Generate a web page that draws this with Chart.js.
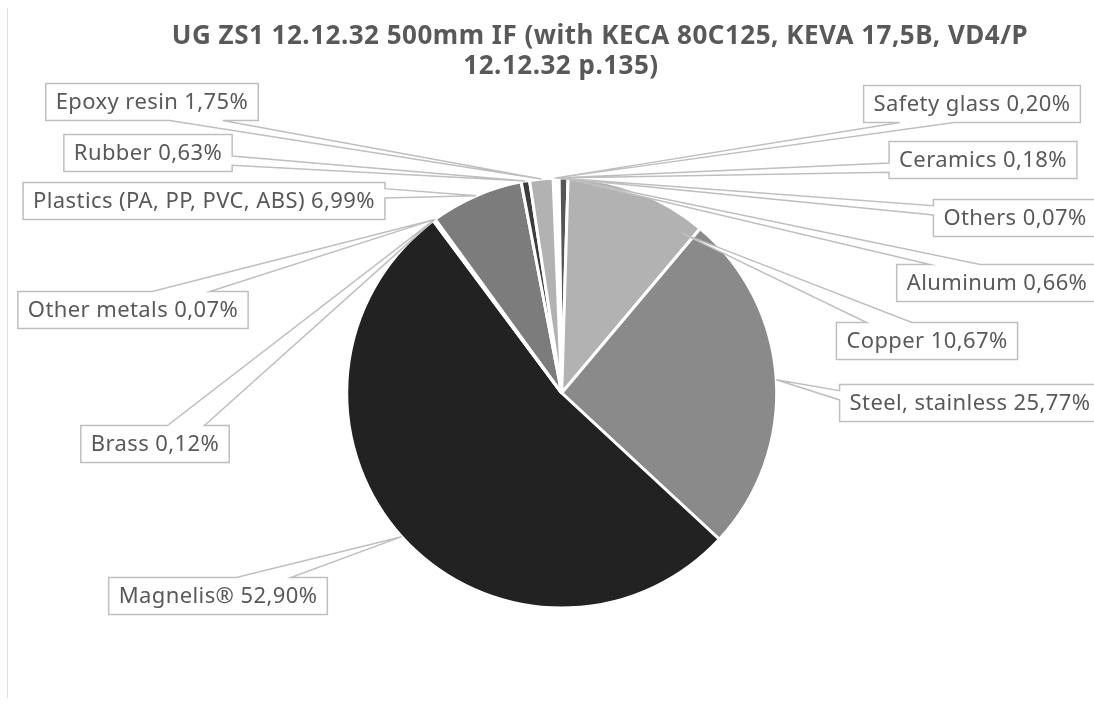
<!DOCTYPE html>
<html>
<head>
<meta charset="utf-8">
<script src="https://cdn.jsdelivr.net/npm/chart.js@4.4.1/dist/chart.umd.min.js"></script>
<style>
  html, body { margin: 0; padding: 0; background: #ffffff; }
  #wrap { width: 1094px; height: 706px; position: relative; }
</style>
</head>
<body>
<div id="wrap"><canvas id="materialsChart" width="1094" height="706"></canvas></div>
<script>
// Material shares (%) of UG ZS1 panel
const materials = ['Safety glass', 'Ceramics', 'Others', 'Aluminum', 'Copper', 'Steel, stainless',
    'Magnelis®', 'Brass', 'Other metals', 'Plastics (PA, PP, PVC, ABS)', 'Rubber', 'Epoxy resin'];
const shares = [0.20, 0.18, 0.07, 0.66, 10.67, 25.77, 52.90, 0.12, 0.07, 6.99, 0.63, 1.75];
const sliceColors = ['#d0d0d0', '#6e6e6e', '#a6a6a6', '#555555', '#b2b2b2', '#8a8a8a',
    '#222222', '#9a9a9a', '#6e6e6e', '#7c7c7c', '#3c3c3c', '#b2b2b2'];

const titleLines = ['UG ZS1 12.12.32 500mm IF (with KECA 80C125, KEVA 17,5B, VD4/P', '12.12.32 p.135)'];

// callout box centres (layout only)
const boxCenters = [
    [972, 104], [983, 160], [1015, 218], [997, 283], [927, 341], [970, 403],
    [218, 596], [155, 444], [133, 310], [204, 201], [148, 153], [152, 102]
];
// where the pointer hits the slice: fraction along the slice, fraction of radius
const tipAt = { 4: [0.92, 0.93] };

const fmt = v => v.toFixed(2).replace('.', ',') + '%';

function calloutPath(ctx, l, t, w, h, tx, ty) {
    const r = l + w, b = t + h;
    const dx = tx - (l + w / 2), dy = ty - (t + h / 2);
    const dz = Math.abs(dy) - Math.abs(dx * h / w);
    const xa = l + w * (dx > 0 ? 7 : 2) / 12, xb = l + w * (dx > 0 ? 10 : 5) / 12;
    const ya = t + h * (dy > 0 ? 7 : 2) / 12, yb = t + h * (dy > 0 ? 10 : 5) / 12;
    ctx.beginPath();
    ctx.moveTo(l, t);
    if (dz > 0 && dy < 0) { ctx.lineTo(xa, t); ctx.lineTo(tx, ty); ctx.lineTo(xb, t); }
    ctx.lineTo(r, t);
    if (dz <= 0 && dx > 0) { ctx.lineTo(r, ya); ctx.lineTo(tx, ty); ctx.lineTo(r, yb); }
    ctx.lineTo(r, b);
    if (dz > 0 && dy > 0) { ctx.lineTo(xb, b); ctx.lineTo(tx, ty); ctx.lineTo(xa, b); }
    ctx.lineTo(l, b);
    if (dz <= 0 && dx < 0) { ctx.lineTo(l, yb); ctx.lineTo(tx, ty); ctx.lineTo(l, ya); }
    ctx.closePath();
}

const calloutPlugin = {
    id: 'callouts',
    afterDatasetsDraw(chart) {
        const ctx = chart.ctx;
        const arcs = chart.getDatasetMeta(0).data;
        ctx.save();
        ctx.font = '22px "Noto Sans"';
        ctx.letterSpacing = '0.4px';
        ctx.textBaseline = 'middle';
        ctx.textAlign = 'center';
        arcs.forEach((arc, i) => {
            const p = arc.getProps(['x', 'y', 'startAngle', 'endAngle', 'outerRadius'], true);
            const [f, rf] = tipAt[i] || [0.5, 1];
            const a = p.startAngle + (p.endAngle - p.startAngle) * f;
            const tx = p.x + Math.cos(a) * p.outerRadius * rf;
            const ty = p.y + Math.sin(a) * p.outerRadius * rf;
            const text = materials[i] + ' ' + fmt(shares[i]);
            const w = ctx.measureText(text).width + 20, h = 37;
            const [cx, cy] = boxCenters[i];
            calloutPath(ctx, cx - w / 2, cy - h / 2, w, h, tx, ty);
            ctx.fillStyle = '#ffffff';
            ctx.fill();
            ctx.strokeStyle = '#bfbfbf';
            ctx.lineWidth = 1.5;
            ctx.stroke();
            ctx.fillStyle = '#595959';
            ctx.fillText(text, cx, cy + 1);
        });
        // title
        ctx.font = 'bold 26px "Noto Sans"';
        ctx.letterSpacing = '0.5px';
        ctx.fillStyle = '#595959';
        ctx.fillText(titleLines[0], 600, 37);
        ctx.fillText(titleLines[1], 561, 67);
        // chart area edge
        ctx.strokeStyle = '#e0e0e0';
        ctx.lineWidth = 1;
        ctx.beginPath();
        ctx.moveTo(7.5, 8);
        ctx.lineTo(7.5, 698);
        ctx.stroke();
        ctx.restore();
    }
};

new Chart(document.getElementById('materialsChart'), {
    type: 'pie',
    data: {
        labels: materials,
        datasets: [{
            data: shares,
            backgroundColor: sliceColors,
            borderColor: '#ffffff',
            borderWidth: 3
        }]
    },
    options: {
        responsive: false,
        animation: false,
        rotation: -2.3,
        layout: { padding: { left: 345.2, right: 315.8, top: 176.5, bottom: 96.5 } },
        plugins: {
            legend: { display: false },
            title: { display: false },
            tooltip: { enabled: false }
        }
    },
    plugins: [calloutPlugin]
});
</script>
</body>
</html>
